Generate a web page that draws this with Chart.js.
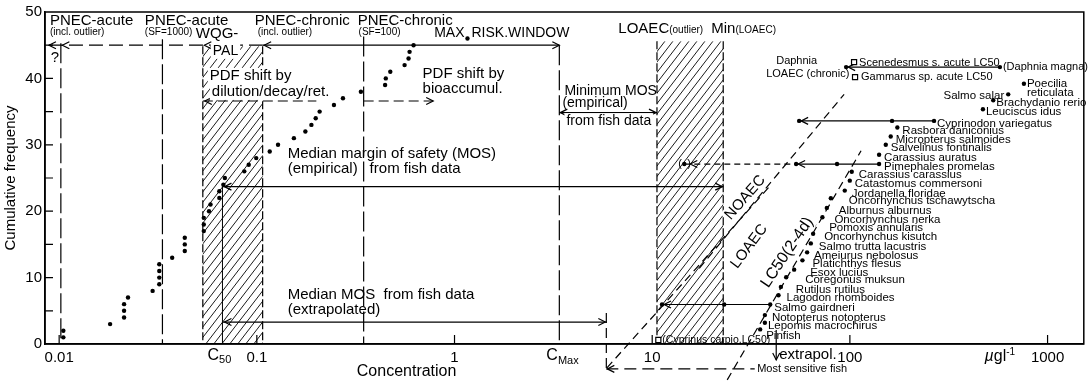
<!DOCTYPE html>
<html>
<head>
<meta charset="utf-8">
<script src="https://cdn.jsdelivr.net/npm/chart.js@4.4.1/dist/chart.umd.min.js"></script>
<style>
  html, body { margin: 0; padding: 0; background: #fff; }
  #wrap { width: 1089px; height: 382px; position: relative; }
</style>
</head>
<body>
<div id="wrap"><canvas id="chart"></canvas></div>
<script>
// ---- Species sensitivity distribution (all taxa), concentration in µg/l ----
const ssdConc = [0.0105, 0.0105, 0.0181, 0.0213, 0.0213, 0.0213, 0.0223, 0.0297, 0.0321, 0.0321,
                 0.0321, 0.0321, 0.0373, 0.0432, 0.0432, 0.0432, 0.0539, 0.0539, 0.0539, 0.0573,
                 0.0583, 0.0646, 0.0646, 0.0677, 0.0689, 0.0864, 0.091, 0.0993, 0.1162, 0.128,
                 0.154, 0.176, 0.1888, 0.1985, 0.2078, 0.2455, 0.2727, 0.336, 0.4455, 0.449,
                 0.4733, 0.559, 0.5855, 0.5925, 0.6207, 1.163];
const ssdFreq = [1, 2, 3, 4, 5, 6, 7, 8, 9, 10, 11, 12, 13, 14, 15, 16, 17, 18, 19, 20, 21, 22, 23,
                 24, 25, 26, 27, 28, 29, 30, 31, 32, 33, 34, 35, 36, 37, 38, 39, 40, 41, 42, 43, 44, 45, 46];

// ---- Fish acute LC50 (2-4 d) ----
const fishSpecies = ['Pinfish', 'Lepomis macrochirus', 'Notopterus notopterus', 'Salmo gairdneri',
  'Lagodon rhomboides', 'Rutilus rutilus', 'Coregonus muksun', 'Esox lucius', 'Platichthys flesus',
  'Ameiurus nebolosus', 'Salmo trutta lacustris', 'Oncorhynchus kisutch', 'Pomoxis annularis',
  'Oncorhynchus nerka', 'Alburnus alburnus', 'Oncorhynchus tschawytscha', 'Jordanella floridae',
  'Catastomus commersoni', 'Carassius carassius', 'Pimephales promelas', 'Carassius auratus',
  'Salvelinus fontinalis', 'Micropterus salmoides', 'Rasbora daniconius', 'Cyprinodon variegatus',
  'Leuciscus idus', 'Brachydanio rerio', 'Salmo salar', 'Poecilia reticulata'];
const fishLC50 = [35.17, 37.15, 37.15, 39.53, 43.53, 44.76, 47.61, 52.24, 57.54, 60.76, 63.44, 65.17,
  65.94, 72.61, 76.43, 80.08, 94.2, 99.88, 102.2, 140.5, 140.5, 151.9, 160.9, 173.8, 266.5, 471.0,
  531.1, 632.3, 759.2];
const fishFreq = [2.2, 3.2, 4.35, 5.95, 7.35, 8.6, 10.05, 11.2, 12.6, 13.8, 15.15, 16.6, 18.0, 19.1,
  20.5, 21.95, 23.1, 24.6, 25.95, 27.1, 28.5, 30.0, 31.25, 32.6, 33.6, 35.35, 36.7, 37.6, 39.2];
// horizontal gap between each point and its species name (px)
const fishLabelGap = [6, 3, 7, 4, 8, 15, 19, 16, 10, 7, 8, 11, 15, 12, 12, 18, 7, 5, 7, 5, 5, 5, 5,
  5, 3, 3, 3, 4, 3];

// Outlier fish value
const outlierName = 'Cyprinus carpio';
const outlierConc = 10.74;
const outlierFreq = 0.6;

// Invertebrates / algae
const daphniaLC50 = 574.1;
const daphniaFreq = 41.7;
const daphniaLOAEC = 95.7;
const otherTaxa = ['Scenedesmus s. acute LC50', 'Gammarus sp. acute LC50'];
const otherConc = [105, 106.2];
const otherFreq = [42.45, 40.2];

// Chronic effect levels for fish (LC50 -> LOAEC -> NOAEC)
const chronicSpecies = ['Salmo gairdneri', 'Pimephales promelas', 'Cyprinodon variegatus'];
const chronicLC50  = [39.53, 140.5, 266.5];
const chronicLOAEC = [23.13, 86.1, 163.4];
const chronicNOAEC = [11.21, 53.46, 55.37];
const chronicFreq  = [5.95, 27.1, 33.6];
const pimephalesOutlierNOAEC = 14.53;

// Reference concentrations
const pnecAcuteOutlier = 0.0102;
const pnecAcuteSF1000 = 0.0333;
const wqgPal = 0.0533;
const c50 = 0.067;
const pnecChronicOutlier = 0.107;
const pnecChronicSF100 = 0.347;
const cMax = 3.39;
const mosExtrapolated = 5.86;
const loaecOutlier = 10.57;
const minLoaec = 22.87;
const extrapolatedFish = 42.4;
const medianFreq = 23.7;

// Regression lines of the fish effect levels [conc, freq] pairs
const noaecLine = [[17.3, 11.4], [93.5, 37.6]];
const loaecLine = [[5.9, -3.6], [40.0, 24.0]];
const lc50Line  = [[23.96, -5.4], [113.9, 29.1]];

// Axis ticks
const xTicks = [0.01, 0.1, 1, 10, 100, 1000];
const yTicks = [0, 10, 20, 30, 40, 50];

const FONT = '"Liberation Sans", Arial, sans-serif';

function pts(xs, ys) { return xs.map((x, i) => ({ x: x, y: ys[i] })); }

function txt(ctx, s, x, y, size, align, opt) {
  opt = opt || {};
  ctx.save();
  ctx.font = (opt.italic ? 'italic ' : '') + size + 'px ' + FONT;
  ctx.textAlign = align || 'left';
  ctx.textBaseline = 'middle';
  if (opt.bg) {
    const w = ctx.measureText(s).width;
    const x0 = align === 'center' ? x - w / 2 : (align === 'right' ? x - w : x);
    ctx.fillStyle = '#fff';
    ctx.fillRect(x0 - 2, y - size * 0.55, w + 4, size * 1.1);
  }
  ctx.fillStyle = '#000';
  ctx.fillText(s, x, y);
  const w = ctx.measureText(s).width;
  ctx.restore();
  return w;
}

function line(ctx, x1, y1, x2, y2, dash, width) {
  ctx.save();
  ctx.setLineDash(dash || []);
  ctx.lineWidth = width || 1.2;
  ctx.strokeStyle = '#000';
  ctx.beginPath(); ctx.moveTo(x1, y1); ctx.lineTo(x2, y2); ctx.stroke();
  ctx.restore();
}

function arrow(ctx, x, y, dir) {
  const L = 7, W = 3.5;
  ctx.save();
  ctx.lineWidth = 1.2; ctx.strokeStyle = '#000'; ctx.setLineDash([]);
  ctx.beginPath();
  if (dir === 'l') { ctx.moveTo(x + L, y - W); ctx.lineTo(x, y); ctx.lineTo(x + L, y + W); }
  if (dir === 'r') { ctx.moveTo(x - L, y - W); ctx.lineTo(x, y); ctx.lineTo(x - L, y + W); }
  if (dir === 'd') { ctx.moveTo(x - W, y - L); ctx.lineTo(x, y); ctx.lineTo(x + W, y - L); }
  ctx.stroke();
  ctx.restore();
}

function hatch(ctx, x1, y1, x2, y2) {
  ctx.save();
  ctx.beginPath(); ctx.rect(x1, y1, x2 - x1, y2 - y1); ctx.clip();
  ctx.strokeStyle = '#000'; ctx.lineWidth = 0.9;
  const h = y2 - y1, run = h / 1.3;
  ctx.beginPath();
  for (let x = x1 - run; x < x2 + 8; x += 8) { ctx.moveTo(x, y2); ctx.lineTo(x + run, y1); }
  ctx.stroke();
  ctx.restore();
  line(ctx, x1, y1, x1, y2, [8, 3]);
  line(ctx, x2, y1, x2, y2, [8, 3]);
}

function rotText(ctx, s, x, y, size, deg) {
  ctx.save();
  ctx.translate(x, y); ctx.rotate(deg * Math.PI / 180);
  txt(ctx, s, 0, 0, size, 'center', { bg: true });
  ctx.restore();
}

// Hatched bands, reference lines and arrows drawn under the points
const backdrop = {
  id: 'backdrop',
  beforeDatasetsDraw(chart) {
    const ctx = chart.ctx, X = v => chart.scales.x.getPixelForValue(v), Y = f => chart.scales.y.getPixelForValue(f);
    const y0 = Y(0);
    hatch(ctx, X(wqgPal), Y(44.85), X(pnecChronicOutlier), y0);
    hatch(ctx, X(loaecOutlier), Y(45.6), X(minLoaec), y0);

    const LD = [20, 5];
    line(ctx, X(pnecAcuteOutlier), Y(45.3), X(pnecAcuteOutlier), y0, LD);
    line(ctx, X(pnecAcuteSF1000), Y(45.9), X(pnecAcuteSF1000), y0, LD);
    line(ctx, X(pnecChronicSF100), Y(46.3), X(pnecChronicSF100), y0, LD);
    line(ctx, X(cMax), Y(45), X(cMax), y0, LD);
    line(ctx, X(c50), Y(medianFreq), X(c50), y0, [], 1);

    // maximum risk window
    const yTop = Y(45);
    line(ctx, X(0.00888), yTop, X(pnecChronicOutlier), yTop, [14, 6]);
    line(ctx, X(pnecChronicOutlier), yTop, X(cMax), yTop, []);
    arrow(ctx, X(0.00888), yTop, 'l');
    arrow(ctx, X(pnecAcuteOutlier) + 1.5, yTop, 'l');
    arrow(ctx, X(wqgPal) + 1.5, yTop, 'l');
    arrow(ctx, X(pnecChronicOutlier) + 1.5, yTop, 'l');
    arrow(ctx, X(cMax), yTop, 'r');

    // PDF shifts
    const yS = Y(36.6);
    line(ctx, X(wqgPal), yS, X(0.2), yS, [10, 5]);
    arrow(ctx, X(wqgPal) + 2, yS, 'l');
    line(ctx, X(pnecChronicSF100), yS, X(0.78), yS, [10, 5]);
    arrow(ctx, X(0.78), yS, 'r');

    // minimum margin of safety
    const yM = Y(34.85);
    line(ctx, X(cMax), yM, X(loaecOutlier), yM, []);
    arrow(ctx, X(cMax) + 1, yM, 'l'); arrow(ctx, X(loaecOutlier) - 1, yM, 'r');

    // median margin of safety (empirical)
    const yE = Y(medianFreq);
    line(ctx, X(c50), yE, X(minLoaec), yE, []);
    arrow(ctx, X(c50) + 2, yE, 'l'); arrow(ctx, X(minLoaec) - 1, yE, 'r');

    // median margin of safety (extrapolated)
    const yX = Y(3.3);
    line(ctx, X(c50), yX, X(mosExtrapolated), yX, []);
    arrow(ctx, X(c50) + 2, yX, 'l'); arrow(ctx, X(mosExtrapolated) - 1, yX, 'r');
    line(ctx, X(mosExtrapolated), Y(4.65), X(mosExtrapolated), Y(-3.6), [10, 5]);
    const yF = Y(-3.75);
    line(ctx, X(mosExtrapolated), yF, X(33.0), yF, [12, 6]);
    arrow(ctx, X(mosExtrapolated) + 1, yF, 'l');

    // extrapolation to the most sensitive fish
    line(ctx, X(extrapolatedFish), Y(2.1), X(extrapolatedFish), Y(-2.4), []);
    arrow(ctx, X(extrapolatedFish), Y(-2.4), 'd');

    // chronic effect level lines
    for (let i = 0; i < chronicSpecies.length; i++) {
      const y = Y(chronicFreq[i]);
      line(ctx, X(chronicNOAEC[i]), y, X(chronicLC50[i]), y, []);
      arrow(ctx, X(chronicNOAEC[i]) + 2, y, 'l');
    }
    const yP = Y(chronicFreq[1]);
    line(ctx, X(pimephalesOutlierNOAEC), yP, X(chronicNOAEC[1]), yP, [6, 4]);
    arrow(ctx, X(pimephalesOutlierNOAEC) + 6, yP, 'l');
    const yD = Y(daphniaFreq);
    line(ctx, X(daphniaLOAEC), yD, X(daphniaLC50), yD, []);
    arrow(ctx, X(daphniaLOAEC) + 2, yD, 'l');

    // regression lines of the fish data
    [noaecLine, loaecLine, lc50Line].forEach(l => line(ctx, X(l[0][0]), Y(l[0][1]), X(l[1][0]), Y(l[1][1]), [8, 5]));
  },
  afterDatasetsDraw(chart) {
    const ctx = chart.ctx, a = chart.chartArea;
    const X = v => chart.scales.x.getPixelForValue(v), Y = f => chart.scales.y.getPixelForValue(f);
    // frame and inward ticks
    ctx.save();
    ctx.strokeStyle = '#000'; ctx.lineWidth = 1.5;
    ctx.strokeRect(a.left, a.top, a.right - a.left, a.bottom - a.top);
    ctx.lineWidth = 1.2;
    ctx.beginPath();
    for (let f = 5; f < 50; f += 5) { ctx.moveTo(a.left, Y(f)); ctx.lineTo(a.left + 8, Y(f)); }
    xTicks.forEach(v => { ctx.moveTo(X(v), a.bottom); ctx.lineTo(X(v), a.bottom - 9); });
    ctx.stroke();
    ctx.restore();

    // labels of the reference lines
    txt(ctx, 'PNEC-acute', X(0.00898), Y(48.6), 15);
    txt(ctx, '(incl. outlier)', X(0.00898), Y(46.95), 10);
    txt(ctx, 'PNEC-acute', X(0.02714), Y(48.6), 15);
    txt(ctx, '(SF=1000)', X(0.02714), Y(46.95), 10);
    txt(ctx, 'WQG-', X(0.04912), Y(46.65), 15);
    txt(ctx, 'PNEC-chronic', X(0.09758), Y(48.6), 15);
    txt(ctx, '(incl. outlier)', X(0.101), Y(46.95), 10);
    txt(ctx, 'PNEC-chronic', X(0.3236), Y(48.6), 15);
    txt(ctx, '(SF=100)', X(0.3272), Y(46.95), 10);
    txt(ctx, 'MAX', X(ssdConc[45]) - 3, Y(46.8), 14, 'right');
    txt(ctx, 'RISK.WINDOW', X(ssdConc[45]) + 4, Y(46.8), 14);
    txt(ctx, '?', X(0.00953), Y(43.05), 15, 'center');
    txt(ctx, 'PAL', X(0.05986), Y(44.1), 14, 'left', { bg: true });
    txt(ctx, 'PDF shift by', X(0.0578), Y(40.35), 15, 'left', { bg: true });
    txt(ctx, 'dilution/decay/ret.', X(0.0592), Y(38.0), 15, 'left', { bg: true });
    txt(ctx, 'PDF shift by', X(0.6892), Y(40.65), 15);
    txt(ctx, 'bioaccumul.', X(0.6892), Y(38.4), 15);
    txt(ctx, 'Median margin of safety (MOS)', X(0.1432), Y(28.65), 15);
    txt(ctx, '(empirical)', X(0.1432), Y(26.4), 15);
    txt(ctx, 'from fish data', X(0.372), Y(26.4), 15);
    txt(ctx, 'Median MOS  from fish data', X(0.1432), Y(7.35), 15);
    txt(ctx, '(extrapolated)', X(0.1432), Y(5.1), 15);
    txt(ctx, 'Minimum MOS', X(3.596), Y(38.1), 14);
    txt(ctx, '(empirical)', X(3.513), Y(36.3), 14);
    txt(ctx, 'from fish data', X(3.681), Y(33.6), 14, 'left', { bg: true });
    let w = txt(ctx, 'LOAEC', X(6.742), Y(47.4), 15);
    txt(ctx, '(outlier)', X(6.742) + w, Y(47.2), 10);
    w = txt(ctx, 'Min', X(19.89), Y(47.4), 15);
    txt(ctx, '(LOAEC)', X(19.89) + w, Y(47.2), 10);

    // chronic/other taxa labels
    txt(ctx, 'Daphnia', X(42.38), Y(42.6), 11);
    txt(ctx, 'LOAEC (chronic)', X(37.72), Y(40.65), 11);
    txt(ctx, otherTaxa[0], X(otherConc[0]) + 5, Y(otherFreq[0]) + 1, 11);
    txt(ctx, otherTaxa[1], X(otherConc[1]) + 6, Y(otherFreq[1]), 11);
    txt(ctx, '(Daphnia magna)', X(daphniaLC50) + 3, Y(daphniaFreq), 11);
    txt(ctx, '(' + outlierName + ',LC50)', X(outlierConc) + 4, Y(outlierFreq), 10.5);
    txt(ctx, '(', X(pimephalesOutlierNOAEC) - 6, Y(chronicFreq[1]), 11);
    txt(ctx, ')', X(pimephalesOutlierNOAEC) + 3, Y(chronicFreq[1]), 11);

    // fish species labels
    fishSpecies.forEach((s, i) => {
      const x = X(fishLC50[i]) + fishLabelGap[i], y = Y(fishFreq[i]) + 3;
      if (s === 'Salmo salar') txt(ctx, s, X(fishLC50[i]) - fishLabelGap[i], y - 2, 11.5, 'right');
      else if (s === 'Poecilia reticulata') {
        txt(ctx, 'Poecilia', x, y - 3, 11.5);
        txt(ctx, 'reticulata', x, y + 6, 11.5);
      } else if (s === 'Pinfish') txt(ctx, s, x, y + 3, 11.5);
      else txt(ctx, s, x, y, 11.5);
    });

    // regression line labels
    rotText(ctx, 'NOAEC', X(29.54), Y(22.05), 15, -49);
    rotText(ctx, 'LOAEC', X(30.95), Y(14.7), 15, -53);
    rotText(ctx, 'LC50(2-4d)', X(48.16), Y(13.8), 16, -56);

    // axis extras
    w = txt(ctx, 'C', X(c50) - 15, Y(-1.7), 16);
    txt(ctx, '50', X(c50) - 15 + w, Y(-2.4), 11);
    w = txt(ctx, 'C', X(cMax) - 13, Y(-1.8), 16);
    txt(ctx, 'Max', X(cMax) - 13 + w, Y(-2.6), 11);
    txt(ctx, 'extrapol.', X(43.87), Y(-1.65), 15);
    txt(ctx, 'Most sensitive fish', X(33.97), Y(-3.75), 11, 'left', { bg: true });
    w = txt(ctx, '\u00b5', X(480), Y(-1.95), 16, 'left', { italic: true });
    w += txt(ctx, 'gl', X(480) + w, Y(-1.95), 16);
    txt(ctx, '-1', X(480) + w, Y(-1.3), 10);
    txt(ctx, 'Concentration', X(0.5723), Y(-4.2), 16, 'center');
  }
};

const dot = { pointRadius: 2.2, pointBackgroundColor: '#000', pointBorderWidth: 0, showLine: false };

new Chart(document.getElementById('chart'), {
  type: 'scatter',
  data: {
    datasets: [
      Object.assign({ label: 'All taxa', data: pts(ssdConc, ssdFreq) }, dot),
      Object.assign({ label: 'Fish LC50', data: pts(fishLC50, fishFreq) }, dot),
      Object.assign({ label: 'Chronic LOAEC', data: pts(chronicLOAEC, chronicFreq) }, dot),
      Object.assign({ label: 'Chronic NOAEC', data: pts(chronicNOAEC, chronicFreq) }, dot),
      Object.assign({ label: 'Daphnia', data: [{ x: daphniaLC50, y: daphniaFreq }, { x: daphniaLOAEC, y: daphniaFreq }] }, dot),
      Object.assign({ label: 'NOAEC outlier', data: [{ x: pimephalesOutlierNOAEC, y: chronicFreq[1] }] }, dot),
      { label: 'Other taxa', data: pts(otherConc, otherFreq), pointStyle: 'rect', pointRadius: 3.6,
        pointBackgroundColor: '#fff', pointBorderColor: '#000', pointBorderWidth: 1.2, showLine: false },
      Object.assign({ label: 'Other taxa centre', data: pts(otherConc, otherFreq) }, dot, { pointRadius: 1.4 }),
      { label: 'Outlier', data: [{ x: outlierConc, y: outlierFreq }], pointStyle: 'rect', pointRadius: 3.6,
        pointBackgroundColor: '#fff', pointBorderColor: '#000', pointBorderWidth: 1.2, showLine: false, clip: false },
      Object.assign({ label: 'Outlier centre', data: [{ x: outlierConc, y: outlierFreq }], clip: false }, dot, { pointRadius: 1.6 })
    ]
  },
  options: {
    responsive: true,
    maintainAspectRatio: false,
    animation: false,
    layout: { padding: { top: 11, right: 3, left: 0, bottom: 0 } },
    plugins: { legend: { display: false }, tooltip: { enabled: false } },
    scales: {
      x: {
        type: 'logarithmic', min: 0.00848, max: 1525,
        afterBuildTicks: s => { s.ticks = xTicks.map(v => ({ value: v })); },
        afterFit: s => { s.height = 38; },
        ticks: { callback: v => String(v), color: '#000', padding: 5, maxRotation: 0, autoSkip: false,
                 font: { family: FONT, size: 15 } },
        grid: { display: false, drawTicks: false },
        border: { display: true, color: '#000', width: 1.5 }
      },
      y: {
        min: 0, max: 50,
        afterBuildTicks: s => { s.ticks = yTicks.map(v => ({ value: v })); },
        afterFit: s => { s.width = 45; },
        ticks: { color: '#000', padding: 3, font: { family: FONT, size: 15 } },
        grid: { display: false, drawTicks: false },
        border: { display: true, color: '#000', width: 1.5 },
        title: { display: true, text: 'Cumulative frequency', color: '#000', padding: { top: 2, bottom: 0 },
                 font: { family: FONT, size: 15 } }
      }
    }
  },
  plugins: [backdrop]
});
</script>
</body>
</html>
